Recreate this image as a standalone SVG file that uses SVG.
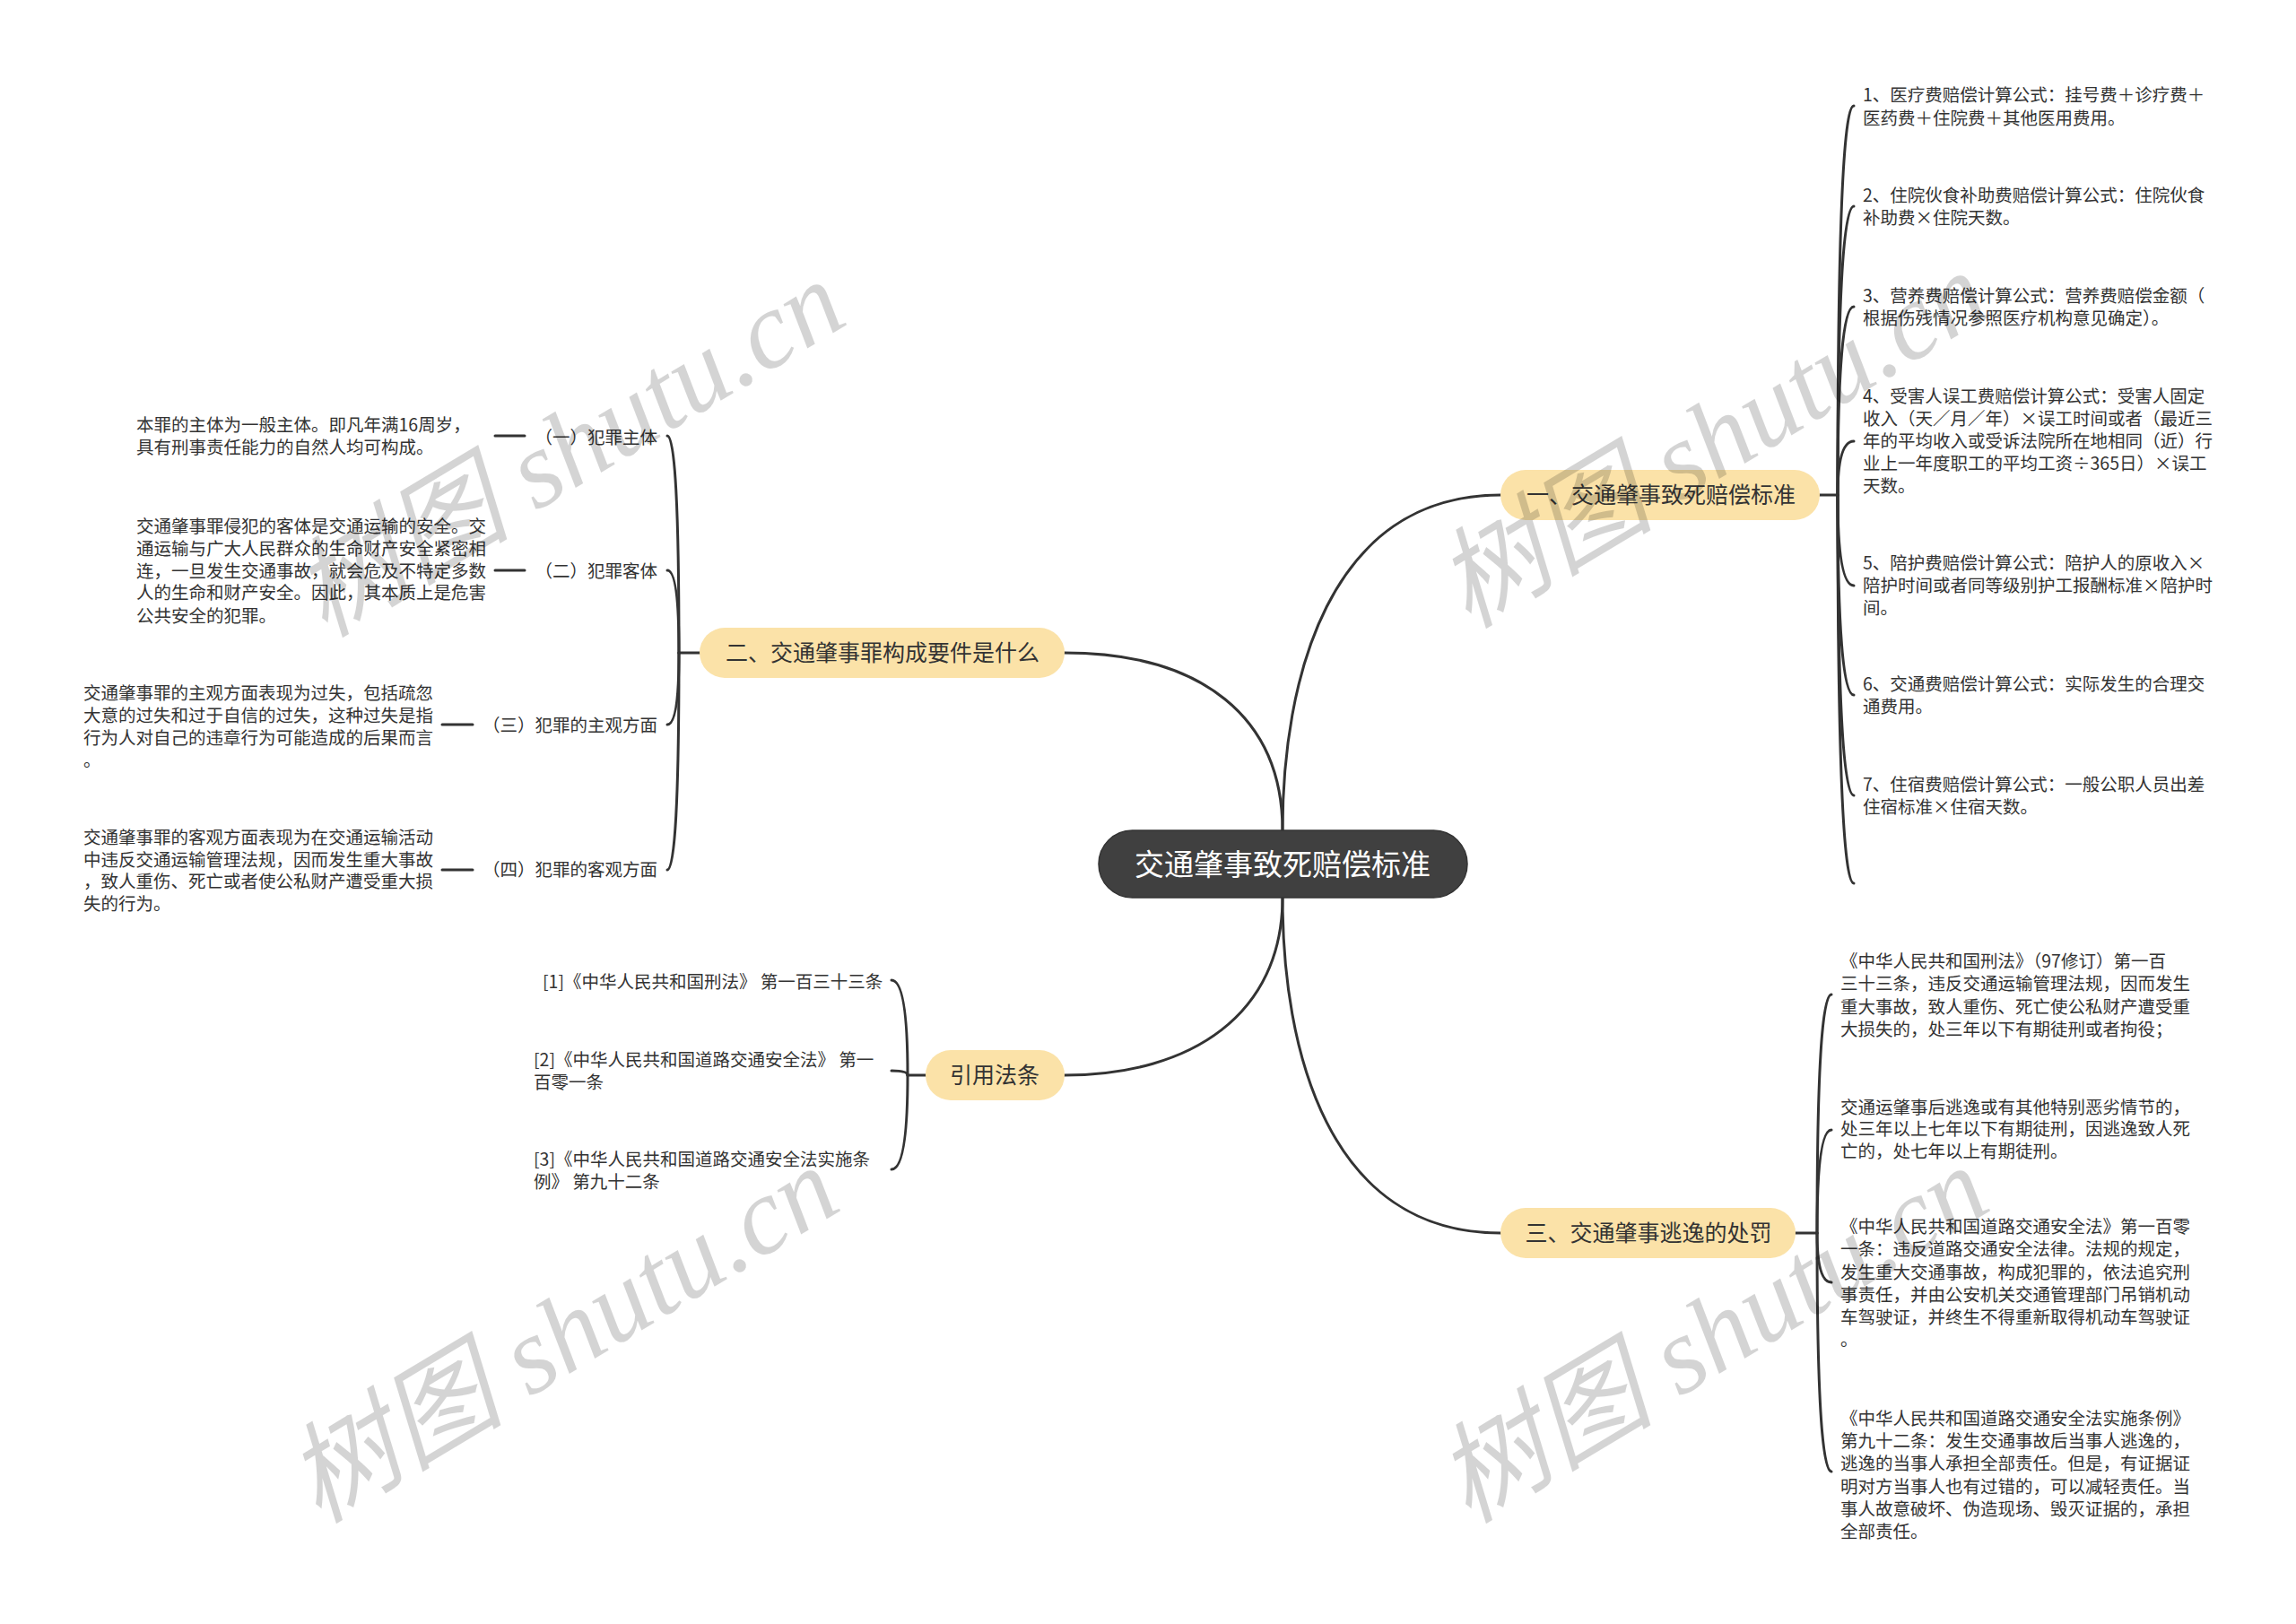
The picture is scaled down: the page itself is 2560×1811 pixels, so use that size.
<svg xmlns="http://www.w3.org/2000/svg" width="2560" height="1811" viewBox="0 0 2560 1811">
<style>
.ln{fill:none;stroke:#333;stroke-width:3;stroke-linecap:round}
.t{font-family:"Noto Sans CJK SC","Noto Sans",sans-serif;font-size:19.5px;fill:#333}
.e{text-anchor:end}
.b{font-family:"Noto Sans CJK SC","Noto Sans",sans-serif;font-size:25px;fill:#333;text-anchor:middle}
.c{font-family:"Noto Sans CJK SC","Noto Sans",sans-serif;font-size:33px;fill:#fff;text-anchor:middle}
.nd{fill:#fbe2a8}
.wm{font-family:"Liberation Serif","Noto Sans CJK SC",serif;font-style:italic;font-size:122px;fill:#000;fill-opacity:0.17}
</style>
<rect width="2560" height="1811" fill="#fff"/>
<g id="connectors">
<path class="ln" d="M1430,926 C1430,760 1480,552 1673,552"/>
<path class="ln" d="M1430,926 C1430,800 1340,728 1187,728"/>
<path class="ln" d="M1430,1001 C1430,1170 1480,1375 1673,1375"/>
<path class="ln" d="M1430,1001 C1430,1130 1330,1199 1187,1199"/>
<path class="ln" d="M2029,552 H2049"/>
<path class="ln" d="M2049,552 Q2049,118 2067,118"/>
<path class="ln" d="M2049,552 Q2049,230 2067,230"/>
<path class="ln" d="M2049,552 Q2049,342 2067,342"/>
<path class="ln" d="M2049,552 Q2049,492 2067,492"/>
<path class="ln" d="M2049,552 Q2049,653 2067,653"/>
<path class="ln" d="M2049,552 Q2049,775 2067,775"/>
<path class="ln" d="M2049,552 Q2049,887 2067,887"/>
<path class="ln" d="M2049,552 Q2049,985 2067,985"/>
<path class="ln" d="M2002,1375 H2026"/>
<path class="ln" d="M2026,1375 Q2026,1109 2042,1109"/>
<path class="ln" d="M2026,1375 Q2026,1260 2042,1260"/>
<path class="ln" d="M2026,1375 Q2026,1430 2042,1430"/>
<path class="ln" d="M2026,1375 Q2026,1641 2042,1641"/>
<path class="ln" d="M780,728 H757"/>
<path class="ln" d="M757,728 Q757,486 744,486"/>
<path class="ln" d="M757,728 Q757,636 744,636"/>
<path class="ln" d="M757,728 Q757,808 744,808"/>
<path class="ln" d="M757,728 Q757,970 744,970"/>
<path class="ln" d="M552,486 H585"/>
<path class="ln" d="M552,636 H585"/>
<path class="ln" d="M493,808 H527"/>
<path class="ln" d="M493,970 H527"/>
<path class="ln" d="M1032,1199 H1012"/>
<path class="ln" d="M1012,1199 Q1012,1093 994,1093"/>
<path class="ln" d="M1012,1199 Q1012,1194 994,1194"/>
<path class="ln" d="M1012,1199 Q1012,1304 994,1304"/>
</g>
<g id="center">
<rect x="1225" y="926" width="411" height="75" rx="37.5" fill="#404040" stroke="#333" stroke-width="1.5"/>
<text class="c" x="1430" y="976">交通肇事致死赔偿标准</text>
</g>
<g id="n1">
<rect class="nd" x="1673" y="524" width="356" height="56" rx="28"/>
<text class="b" x="1852" y="561">一、交通肇事致死赔偿标准</text>
</g>
<g id="n1-1"><text class="t" x="2077" y="113">1、医疗费赔偿计算公式：挂号费＋诊疗费＋<tspan x="2077" y="139">医药费＋住院费＋其他医用费用。</tspan></text></g>
<g id="n1-2"><text class="t" x="2077" y="225">2、住院伙食补助费赔偿计算公式：住院伙食<tspan x="2077" y="250">补助费×住院天数。</tspan></text></g>
<g id="n1-3"><text class="t" x="2077" y="337">3、营养费赔偿计算公式：营养费赔偿金额（<tspan x="2077" y="362">根据伤残情况参照医疗机构意见确定）。</tspan></text></g>
<g id="n1-4"><text class="t" x="2077" y="449">4、受害人误工费赔偿计算公式：受害人固定<tspan x="2077" y="474">收入（天／月／年）×误工时间或者（最近三</tspan><tspan x="2077" y="499">年的平均收入或受诉法院所在地相同（近）行</tspan><tspan x="2077" y="524">业上一年度职工的平均工资÷365日）×误工</tspan><tspan x="2077" y="549">天数。</tspan></text></g>
<g id="n1-5"><text class="t" x="2077" y="635">5、陪护费赔偿计算公式：陪护人的原收入×<tspan x="2077" y="660">陪护时间或者同等级别护工报酬标准×陪护时</tspan><tspan x="2077" y="685">间。</tspan></text></g>
<g id="n1-6"><text class="t" x="2077" y="770">6、交通费赔偿计算公式：实际发生的合理交<tspan x="2077" y="795">通费用。</tspan></text></g>
<g id="n1-7"><text class="t" x="2077" y="882">7、住宿费赔偿计算公式：一般公职人员出差<tspan x="2077" y="907">住宿标准×住宿天数。</tspan></text></g>
<g id="n2">
<rect class="nd" x="780" y="700" width="407" height="56" rx="28"/>
<text class="b" x="984" y="737">二、交通肇事罪构成要件是什么</text>
</g>
<g id="n2-1"><text class="t e" x="733" y="495">（一）犯罪主体</text></g>
<g id="n2-1-1"><text class="t" x="152" y="481">本罪的主体为一般主体。即凡年满16周岁，<tspan x="152" y="506">具有刑事责任能力的自然人均可构成。</tspan></text></g>
<g id="n2-2"><text class="t e" x="733" y="644">（二）犯罪客体</text></g>
<g id="n2-2-1"><text class="t" x="152" y="594">交通肇事罪侵犯的客体是交通运输的安全。交<tspan x="152" y="619">通运输与广大人民群众的生命财产安全紧密相</tspan><tspan x="152" y="644">连，一旦发生交通事故，就会危及不特定多数</tspan><tspan x="152" y="668">人的生命和财产安全。因此，其本质上是危害</tspan><tspan x="152" y="694">公共安全的犯罪。</tspan></text></g>
<g id="n2-3"><text class="t e" x="733" y="816">（三）犯罪的主观方面</text></g>
<g id="n2-3-1"><text class="t" x="93" y="780">交通肇事罪的主观方面表现为过失，包括疏忽<tspan x="93" y="805">大意的过失和过于自信的过失，这种过失是指</tspan><tspan x="93" y="830">行为人对自己的违章行为可能造成的后果而言</tspan><tspan x="93" y="855">。</tspan></text></g>
<g id="n2-4"><text class="t e" x="733" y="977">（四）犯罪的客观方面</text></g>
<g id="n2-4-1"><text class="t" x="93" y="941">交通肇事罪的客观方面表现为在交通运输活动<tspan x="93" y="966">中违反交通运输管理法规，因而发生重大事故</tspan><tspan x="93" y="990">，致人重伤、死亡或者使公私财产遭受重大损</tspan><tspan x="93" y="1015">失的行为。</tspan></text></g>
<g id="n3">
<rect class="nd" x="1032" y="1171" width="155" height="56" rx="28"/>
<text class="b" x="1109" y="1208">引用法条</text>
</g>
<g id="n3-1"><text class="t" x="605" y="1102">[1]《中华人民共和国刑法》 第一百三十三条</text></g>
<g id="n3-2"><text class="t" x="595" y="1189">[2]《中华人民共和国道路交通安全法》 第一<tspan x="595" y="1214">百零一条</tspan></text></g>
<g id="n3-3"><text class="t" x="595" y="1300">[3]《中华人民共和国道路交通安全法实施条<tspan x="595" y="1325">例》 第九十二条</tspan></text></g>
<g id="n4">
<rect class="nd" x="1673" y="1347" width="329" height="56" rx="28"/>
<text class="b" x="1838" y="1384">三、交通肇事逃逸的处罚</text>
</g>
<g id="n4-1"><text class="t" x="2052" y="1079">《中华人民共和国刑法》（97修订）第一百<tspan x="2052" y="1104">三十三条，违反交通运输管理法规，因而发生</tspan><tspan x="2052" y="1130">重大事故，致人重伤、死亡使公私财产遭受重</tspan><tspan x="2052" y="1155">大损失的，处三年以下有期徒刑或者拘役；</tspan></text></g>
<g id="n4-2"><text class="t" x="2052" y="1242">交通运肇事后逃逸或有其他特别恶劣情节的，<tspan x="2052" y="1266">处三年以上七年以下有期徒刑，因逃逸致人死</tspan><tspan x="2052" y="1291">亡的，处七年以上有期徒刑。</tspan></text></g>
<g id="n4-3"><text class="t" x="2052" y="1375">《中华人民共和国道路交通安全法》第一百零<tspan x="2052" y="1400">一条：违反道路交通安全法律。法规的规定，</tspan><tspan x="2052" y="1426">发生重大交通事故，构成犯罪的，依法追究刑</tspan><tspan x="2052" y="1451">事责任，并由公安机关交通管理部门吊销机动</tspan><tspan x="2052" y="1476">车驾驶证，并终生不得重新取得机动车驾驶证</tspan><tspan x="2052" y="1501">。</tspan></text></g>
<g id="n4-4"><text class="t" x="2052" y="1589">《中华人民共和国道路交通安全法实施条例》<tspan x="2052" y="1614">第九十二条：发生交通事故后当事人逃逸的，</tspan><tspan x="2052" y="1639">逃逸的当事人承担全部责任。但是，有证据证</tspan><tspan x="2052" y="1665">明对方当事人也有过错的，可以减轻责任。当</tspan><tspan x="2052" y="1690">事人故意破坏、伪造现场、毁灭证据的，承担</tspan><tspan x="2052" y="1715">全部责任。</tspan></text></g>
<g id="watermarks">
<text class="wm" x="362" y="712" transform="rotate(-31 362 712)">树图 shutu.cn</text>
<text class="wm" x="1637" y="702" transform="rotate(-31 1637 702)">树图 shutu.cn</text>
<text class="wm" x="355" y="1700" transform="rotate(-31 355 1700)">树图 shutu.cn</text>
<text class="wm" x="1637" y="1700" transform="rotate(-31 1637 1700)">树图 shutu.cn</text>
</g>
</svg>
